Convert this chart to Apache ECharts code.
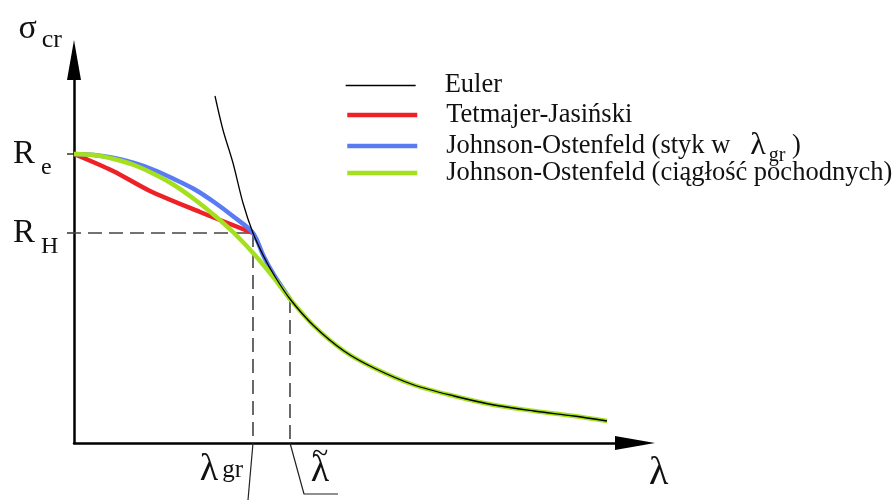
<!DOCTYPE html>
<html>
<head>
<meta charset="utf-8">
<script src="https://cdn.jsdelivr.net/npm/echarts@6/dist/echarts.min.js"></script>
<style>
  html, body { margin: 0; padding: 0; background: #fff; }
  #chart { width: 893px; height: 500px; }
</style>
</head>
<body>
<div id="chart"></div>
<script>
// characteristic values
var RE = 289;      // R_e
var RH = 210;      // R_H
var L_GR = 179;    // lambda_gr
var L_T = 216;     // lambda tilde

// curves [lambda, sigma]
var euler = [[141,347],[149,313],[159,280],[169,240],[179,210],[190,186],[200,168],[216,144],[240,117],
  [270,92],[300,75],[340,58],[380,47],[420,38],[460,32],[500,27],[533,22]];
var tetmajer = [[0,289],[39,272],[76,252],[126,231],[179,210]];
var johnsonGr = [[0,289],[20,288],[40,285],[60,280],[80,273],[100,264],[120,254],[140,241],[160,226],
  [179,210],[190,186],[200,168],[216,144]];
var johnsonCont = [[0,289],[20,288],[40,284],[60,278],[80,269],[100,258],[120,244],[140,228],[160,210],
  [180,189],[200,165],[216,144],[240,117],[270,92],[300,75],[340,58],[380,47],[420,38],[460,32],[500,27],[533,22]];

// helper lines
var rhDash = [[-7,RH],[L_GR,RH]];
var grDash = [[L_GR,RH],[L_GR,0]];
var tDash = [[L_T,144],[L_T,0]];
var grLeader = [[L_GR,0],[174,-57]];
var tLeader = [[L_T,0],[230,-51],[264,-51]];

var N_EU = 'Euler';
var N_TJ = 'Tetmajer-Jasiński';
var N_J1 = 'Johnson-Ostenfeld (styk w λgr)';
var N_J2 = 'Johnson-Ostenfeld (ciągłość pochodnych)';

var SERIF = 'Liberation Serif';
var INK = '#111';
var chart = echarts.init(document.getElementById('chart'));

function curve(name, data, color, width, z) {
  return {
    name: name, type: 'line', data: data, symbol: 'none', smooth: 0.3, z: z,
    lineStyle: {color: color, width: width}, itemStyle: {color: color},
    silent: true, animation: false
  };
}
function helper(data, dashed, endLabel) {
  var s = {
    type: 'line', data: data, symbol: 'none', clip: false, z: 1, silent: true, animation: false,
    lineStyle: {color: dashed ? '#444' : '#222', width: dashed ? 1.6 : 1.2, type: dashed ? [14, 7] : 'solid'}
  };
  if (endLabel) s.endLabel = endLabel;
  return s;
}
var lambdaRich = {
  l: {fontFamily: SERIF, fontSize: 38, color: INK, lineHeight: 40},
  l2: {fontFamily: SERIF, fontSize: 38, color: INK, lineHeight: 30},
  tl: {fontFamily: SERIF, fontSize: 30, color: INK, lineHeight: 2},
  g: {width: 4, lineHeight: 6},
  s: {fontFamily: SERIF, fontSize: 25, color: INK, lineHeight: 6}
};
function legendItem(name, top, width) {
  return {
    orient: 'vertical', left: 345, top: top, padding: 0, itemWidth: 70, itemHeight: 1,
    selectedMode: false,
    data: [{name: name, lineStyle: {width: width}}],
    textStyle: {fontFamily: SERIF, fontSize: 26.5, color: INK,
      rich: {
        sp: {width: 24, lineHeight: 26},
        t: {fontFamily: SERIF, fontSize: 26.5, color: INK, lineHeight: 26},
        l: {fontFamily: SERIF, fontSize: 32, color: INK, lineHeight: 26},
        g: {width: 3, lineHeight: 6},
        s: {fontFamily: SERIF, fontSize: 20, color: INK, lineHeight: 6, padding: [20, 0, 0, 0]}
      }},
    formatter: function (n) {
      if (n === N_J1) return '{sp|}{t|Johnson-Ostenfeld (styk w   }{l|λ}{g|}{s|gr}{t| )}';
      return '{sp|}{t|' + n + '}';
    }
  };
}

var option = {
  backgroundColor: '#fff',
  animation: false,
  grid: {left: 74, top: 60, right: 258, bottom: 57, containLabel: false, outerBoundsMode: 'none'},
  legend: [
    legendItem(N_EU, 72, 1.3),
    legendItem(N_TJ, 101.5, 4.5),
    legendItem(N_J1, 126, 4.5),
    legendItem(N_J2, 159.5, 4.5)
  ],
  xAxis: {
    type: 'value', min: 0, max: 561,
    name: 'λ', nameLocation: 'end', nameGap: 14,
    nameTextStyle: {fontFamily: SERIF, fontSize: 40, color: INK, verticalAlign: 'top', lineHeight: 60},
    axisLine: {onZero: false, lineStyle: {color: '#000', width: 2.5}, symbol: ['none', 'triangle'], symbolSize: [14, 40]},
    axisTick: {show: false},
    splitLine: {show: false},
    axisLabel: {show: false}
  },
  yAxis: {
    type: 'value', min: 0, max: 383,
    name: '{g|σ}{p|}{c|cr}', nameLocation: 'end', nameGap: 31,
    nameTextStyle: {align: 'right', verticalAlign: 'middle', padding: [0, 12, 0, 0],
      rich: {
        g: {fontFamily: SERIF, fontSize: 34, color: INK, lineHeight: 30},
        p: {width: 5, lineHeight: 6},
        c: {fontFamily: SERIF, fontSize: 26, color: INK, lineHeight: 6, padding: [22, 0, 0, 0]}
      }},
    axisLine: {onZero: false, lineStyle: {color: '#000', width: 2.5}, symbol: ['none', 'triangle'], symbolSize: [14, 40]},
    axisTick: {show: true, customValues: [RH, RE], length: 7, lineStyle: {color: '#333', width: 1.5}},
    splitLine: {show: false},
    axisLabel: {
      customValues: [RH, RE], margin: 61, align: 'left',
      formatter: function (v) {
        return v === RE ? '{r|R}{p|}{s|e}' : '{r|R}{p|}{s|H}';
      },
      rich: {
        r: {fontFamily: SERIF, fontSize: 33, color: INK, lineHeight: 34},
        p: {width: 6, lineHeight: 6},
        s: {fontFamily: SERIF, fontSize: 24, color: INK, lineHeight: 6, padding: [28, 0, 0, 0]}
      }
    }
  },
  series: [
    helper(rhDash, true),
    helper(grDash, true),
    helper(tDash, true),
    helper(grLeader, false, {
      show: true, distance: 0, align: 'right', verticalAlign: 'bottom', offset: [-5, -10],
      formatter: '{l|λ}{g|}{s|gr}', rich: lambdaRich
    }),
    helper(tLeader, false, {
      show: true, distance: 0, align: 'center', verticalAlign: 'bottom', offset: [-18, -8],
      formatter: '{tl|~}\n{l2|λ}', rich: lambdaRich
    }),
    curve(N_TJ, tetmajer, '#ee2127', 4.5, 3),
    curve(N_J1, johnsonGr, '#5b7bf3', 4.5, 4),
    curve(N_J2, johnsonCont, '#a4e01e', 4.5, 5),
    curve(N_EU, euler, '#000', 1.3, 6)
  ]
};
chart.setOption(option);
</script>
</body>
</html>
